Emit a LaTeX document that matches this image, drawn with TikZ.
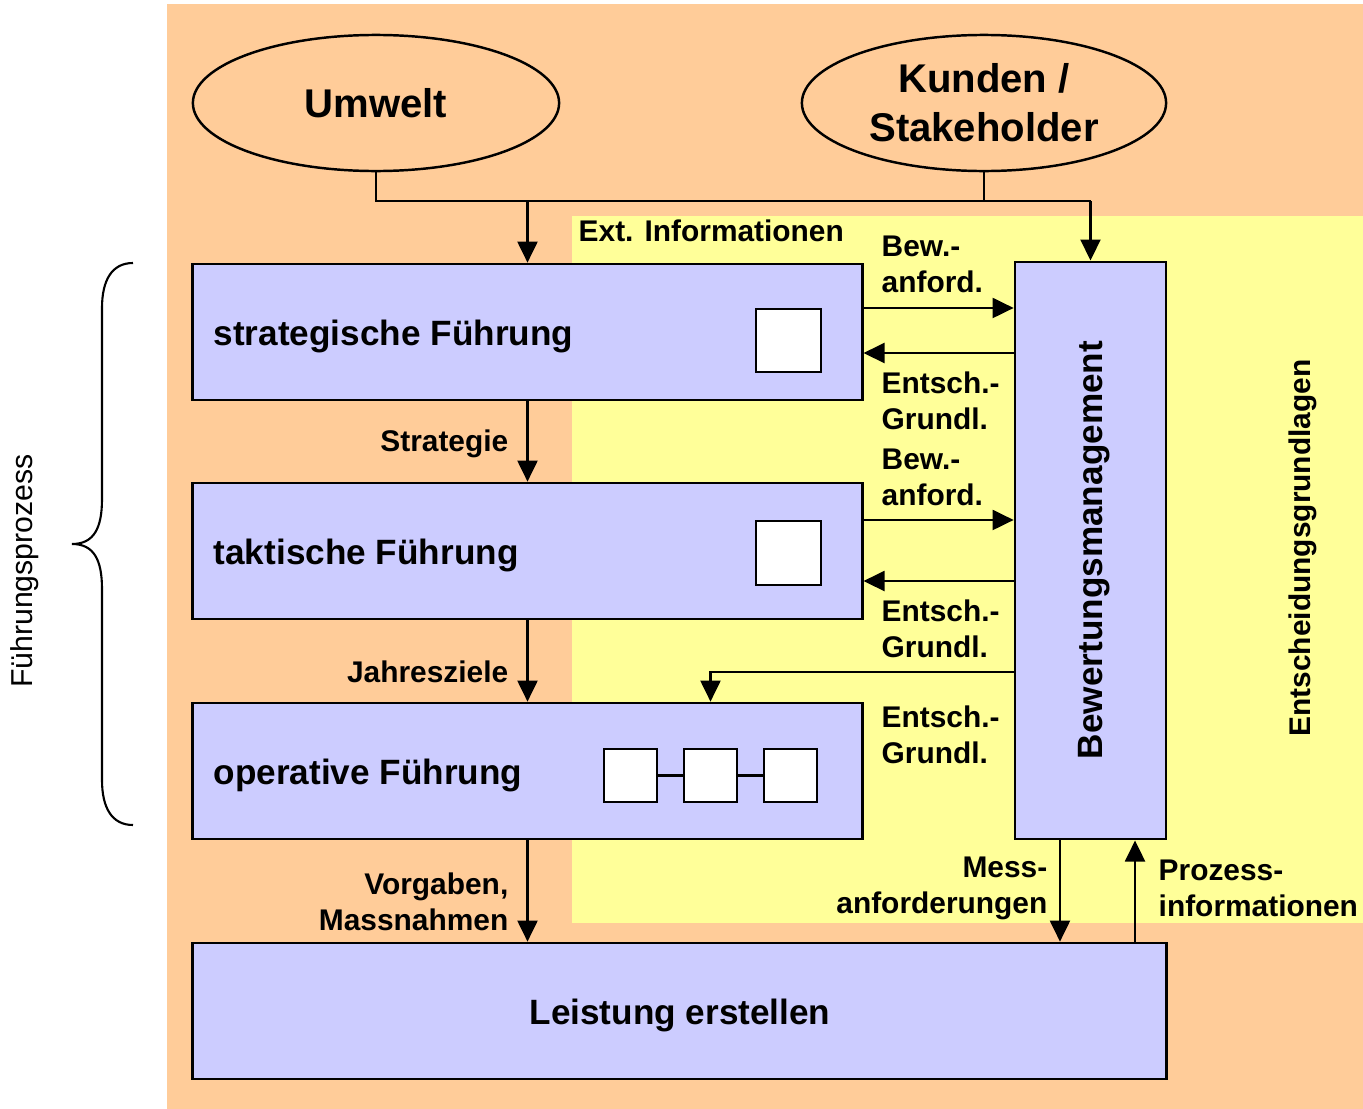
\documentclass[tikz,border=0pt]{standalone}
\usepackage{fontspec}
\setmainfont{Liberation Sans}
\usetikzlibrary{shapes.geometric,arrows.meta}
\definecolor{peach}{HTML}{FFCC99}
\definecolor{pale}{HTML}{FFFF99}
\definecolor{lilac}{HTML}{CCCCFF}

\begin{document}
\begin{tikzpicture}[x=0.01cm,y=-0.01cm,
  box/.style={draw,line width=0.75pt,fill=lilac,inner sep=0pt},
  sq/.style={draw,line width=0.6pt,fill=white,inner sep=0pt},
  oval/.style={ellipse,draw,line width=0.7pt,fill=peach,inner sep=0pt,align=center,
    font=\fontsize{11.4}{14}\selectfont\bfseries},
  lbl/.style={inner sep=0pt,font=\fontsize{8.5}{10.2}\selectfont\bfseries},
  boxtxt/.style={inner sep=0pt,anchor=west,font=\fontsize{10}{12}\selectfont\bfseries},
  wire/.style={line width=0.6pt},
  arr/.style={wire,-{Triangle[length=0.21cm,width=0.2cm]}}]

% canvas and background areas
\useasboundingbox (0,0) rectangle (1363,1109);
\fill[peach] (167,4) rectangle (1363,1109);
\fill[pale] (572,216) rectangle (1363,923);

% outer parties
\node[oval,minimum width=3.66cm,minimum height=1.36cm] (umwelt) at (376,103) {Umwelt};
\node[oval,minimum width=3.64cm,minimum height=1.36cm] (kunden) at (984,103) {Kunden /\\Stakeholder};

% leadership levels
\node[box,minimum width=6.69cm,minimum height=1.36cm] (strat) at (527.5,332) {};
\node[box,minimum width=6.69cm,minimum height=1.36cm] (takt) at (527.5,551) {};
\node[box,minimum width=6.69cm,minimum height=1.36cm] (oper) at (527.5,771) {};
\node[box,minimum width=9.73cm,minimum height=1.36cm] (leist) at (679.5,1011) {};
\node[box,minimum width=1.51cm,minimum height=5.77cm] (bew) at (1090.5,550.5) {};

\node[boxtxt] (tstrat) at (213,336) {strategische Führung};
\node[boxtxt] (ttakt) at (213,555) {taktische Führung};
\node[boxtxt] (toper) at (213,775) {operative Führung};
\node[inner sep=0pt,font=\fontsize{10}{12}\selectfont\bfseries] (tleist) at (680,1015) {Leistung erstellen};
\node[rotate=90,inner sep=0pt,font=\fontsize{10}{12}\selectfont\bfseries] (tbew) at (1094,550) {Bewertungsmanagement};

% small squares inside the boxes
\node[sq,minimum width=0.65cm,minimum height=0.63cm] (sqs) at (788.5,340.5) {};
\node[sq,minimum width=0.65cm,minimum height=0.64cm] (sqt) at (788.5,553) {};
\node[sq,minimum width=0.53cm,minimum height=0.53cm] (sqa) at (630.5,775.5) {};
\node[sq,minimum width=0.53cm,minimum height=0.53cm] (sqb) at (710.5,775.5) {};
\node[sq,minimum width=0.53cm,minimum height=0.53cm] (sqc) at (790.5,775.5) {};
\draw[wire] (sqa) -- (sqb);
\draw[wire] (sqb) -- (sqc);

% external information feed
\coordinate (busL) at (376,201);
\coordinate (busR) at (1090.5,201);
\draw[wire] (umwelt.south) -- (busL) -- (busR);
\draw[wire] (kunden.south) -- (kunden.south |- busL);
\draw[arr] (strat.north |- busL) -- (strat.north);
\draw[arr] (busR) -- (bew.north);

% downward chain
\draw[arr] (strat.south) -- (takt.north);
\draw[arr] (takt.south) -- (oper.north);
\draw[arr] (oper.south) -- (oper.south |- leist.north);

% exchange with the evaluation management
\draw[arr] ([yshift=0.24cm]strat.east) -- ([yshift=0.24cm]strat.east -| bew.west);
\draw[arr] ([yshift=-0.21cm]strat.east -| bew.west) -- ([yshift=-0.21cm]strat.east);
\draw[arr] ([yshift=0.31cm]takt.east) -- ([yshift=0.31cm]takt.east -| bew.west);
\draw[arr] ([yshift=-0.30cm]takt.east -| bew.west) -- ([yshift=-0.30cm]takt.east);
\draw[arr] ([yshift=-1.215cm]bew.west) -| (sqb |- oper.north);
\draw[arr] ([xshift=-0.305cm]bew.south) -- ([xshift=-0.305cm]bew.south |- leist.north);
\draw[arr] ([xshift=0.445cm]bew.south |- leist.north) -- ([xshift=0.445cm]bew.south);

% labels
\node[lbl,anchor=west] (lext) at (578,231) {Ext. Informationen};
\node[lbl,anchor=west,align=left] (lbew1) at (881,264) {Bew.-\\anford.};
\node[lbl,anchor=west,align=left] (lent1) at (881,401) {Entsch.-\\Grundl.};
\node[lbl,anchor=west,align=left] (lbew2) at (881,477) {Bew.-\\anford.};
\node[lbl,anchor=west,align=left] (lent2) at (881,629) {Entsch.-\\Grundl.};
\node[lbl,anchor=west,align=left] (lent3) at (881,735) {Entsch.-\\Grundl.};
\node[lbl,anchor=east] (lstr) at (509,444) {Strategie};
\node[lbl,anchor=east] (ljahr) at (509,672) {Jahresziele};
\node[lbl,anchor=east,align=right] (lvor) at (509,902) {Vorgaben,\\Massnahmen};
\node[lbl,anchor=east,align=right] (lmess) at (1048,888) {Mess-\\anforderungen};
\node[lbl,anchor=west,align=left] (lproz) at (1158,888) {Prozess-\\informationen};
\node[lbl,rotate=90] (lentsch) at (1303,548) {Entscheidungsgrundlagen};

% leadership process brace
\draw[line width=0.6pt] (133,263) .. controls (112,263) and (102,280) .. (102,308)
  -- (102,499) .. controls (102,528) and (94,544) .. (72,544)
  .. controls (94,544) and (102,560) .. (102,589)
  -- (102,780) .. controls (102,808) and (112,825) .. (133,825);
\node[rotate=90,inner sep=0pt,font=\fontsize{8.6}{10}\selectfont] (lfp) at (25,571) {Führungsprozess};
\end{tikzpicture}
\end{document}
